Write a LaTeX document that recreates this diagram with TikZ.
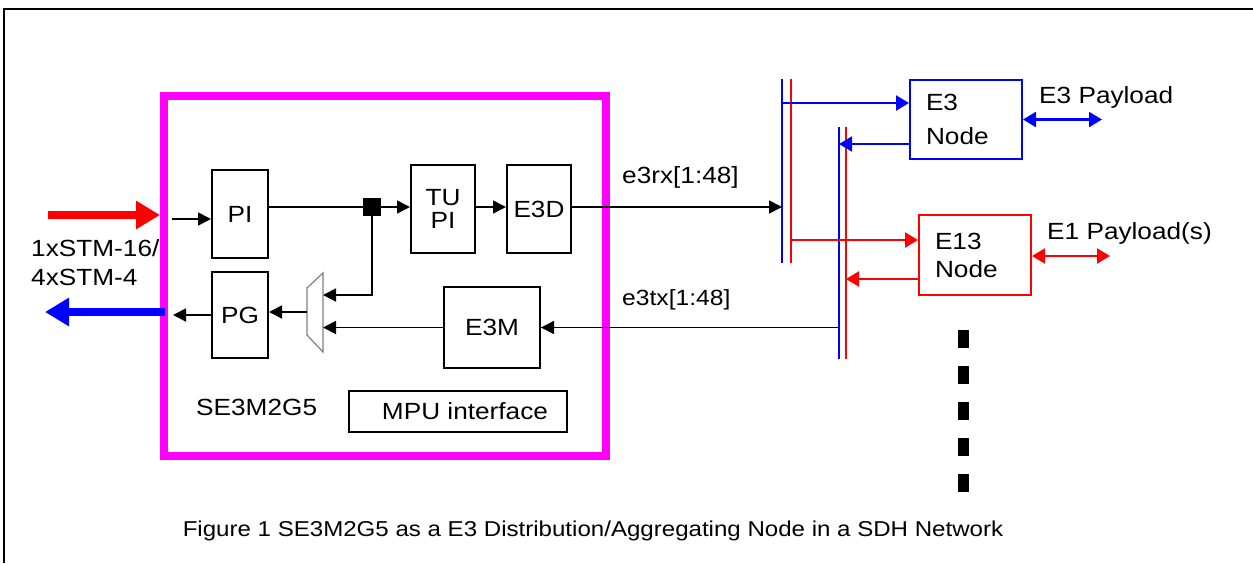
\documentclass[tikz,border=0pt]{standalone}
\usepackage{fontspec}
\setmainfont{Liberation Sans}[FakeStretch=1.12]
\usetikzlibrary{arrows.meta}
\definecolor{chipmag}{HTML}{FF00FF}

\begin{document}
\begin{tikzpicture}[x=1pt, y=-1pt,
  every node/.style={font=\fontsize{23.4}{29}\selectfont},
  box/.style={draw, line width=2pt, inner sep=0pt},
  link/.style={line width=1.8pt, -{Triangle[length=13pt,width=13pt]}},
  clink/.style={line width=2.2pt, -{Triangle[length=13pt,width=15pt]}},
  dlink/.style={line width=2.2pt, {Triangle[length=13pt,width=15pt]}-{Triangle[length=13pt,width=15pt]}},
  bus/.style={line width=2pt},
  lbl/.style={anchor=west, inner sep=0pt}]
\useasboundingbox (0,0) rectangle (1253,563);

% Page frame
\draw[line width=2pt] (4,563) -- (4,9) -- (1253,9);

% Chip outline and blocks
\node[draw=chipmag, line width=8pt, minimum width=442pt, minimum height=360pt] (chip) at (385,276) {};
\node[box, minimum width=56pt, minimum height=88pt] (pi) at (240,214) {PI};
\node[box, minimum width=56pt, minimum height=86pt] (pg) at (240,315) {PG};
\node[box, minimum width=64pt, minimum height=88pt, align=center, font=\fontsize{23.4}{23}\selectfont] (tupi) at (443,209) {TU\\PI};
\node[box, minimum width=64pt, minimum height=88pt] (e3d) at (539,209) {E3D};
\node[box, minimum width=96pt, minimum height=81pt] (e3m) at (492,327.5) {E3M};
\node[box, minimum width=218pt, minimum height=41pt] (mpu) at (458,411.5) {\hspace{14pt}MPU interface};
\node[lbl] (chipname) at (196,407) {SE3M2G5};
\node[fill, inner sep=0pt, minimum size=18pt] (jn) at (372,207) {};

% Mux
\draw[gray, line width=1.2pt] (307,288) -- (323,273) -- (323,352) -- (307,335) -- cycle;
\coordinate (mux1) at (323,295);
\coordinate (mux2) at (323,328);
\coordinate (muxo) at (307,312);

% Line side
\coordinate (stmin) at (48,215);
\coordinate (stmout) at (45,312);
\draw[red, line width=8pt, -{Triangle[length=24pt,width=27pt]}] (stmin) -- (stmin -| chip.west);
\draw[blue, line width=8pt, -{Triangle[length=24pt,width=27pt]}] ([xshift=5pt]stmout -| chip.west) -- (stmout);
\node[lbl, align=left] (stm) at (31,262.5) {1xSTM-16/\\4xSTM-4};

% Internal links
\draw[link] ([xshift=12pt]chip.west |- 0,219) -- ([yshift=-5pt]pi.west);
\draw[link] (pg.west) -- ([xshift=13pt]pg.west -| chip.west);
\draw[line width=1.8pt] (jn -| pi.east) -- (jn);
\draw[link] (jn) -- (jn -| tupi.west);
\draw[link] (tupi.east |- jn) -- (jn -| e3d.west);
\draw[link] (jn) |- (mux1);
\draw[link] (e3m.west) -- (e3m.west -| mux2);
\draw[link] (muxo) -- (muxo -| pg.east);

% Buses
\coordinate (b1top) at (782,79);  \coordinate (b1bot) at (782,263);
\coordinate (r1top) at (791,79);  \coordinate (r1bot) at (791,263);
\coordinate (b2top) at (839,127); \coordinate (b2bot) at (839,359);
\coordinate (r2top) at (846,127); \coordinate (r2bot) at (846,359);
\draw[bus, blue] (b1top) -- (b1bot);
\draw[bus, red] (r1top) -- (r1bot);
\draw[bus, blue] (b2top) -- (b2bot);
\draw[bus, red] (r2top) -- (r2bot);

\draw[link] (jn -| e3d.east) -- (jn -| b1top);
\draw[line width=1.8pt] (e3m.east -| b2top) -- (e3m.east);
\draw[link] (e3m.east -| b2top) -- (e3m.east);
\node[lbl] (rxlbl) at (622,177) {e3rx[1:48]};
\node[lbl, font=\fontsize{22}{26}\selectfont] (txlbl) at (622,300) {e3tx[1:48]};

% Tributary nodes
\node[box, draw=blue, minimum width=112pt, minimum height=79pt, text width=80pt, align=left, font=\fontsize{23.4}{34}\selectfont] (e3n) at (966,119.5) {E3\\Node};
\node[box, draw=red, minimum width=112pt, minimum height=80pt, text width=80pt, align=left, font=\fontsize{23.4}{28}\selectfont] (e13n) at (975,255) {E13\\Node};

\draw[clink, blue] ([yshift=16.5pt]e3n.west -| b1top) -- ([yshift=16.5pt]e3n.west);
\draw[clink, blue] ([yshift=-24.5pt]e3n.west) -- ([yshift=-24.5pt]e3n.west -| b2top);
\draw[clink, red] ([yshift=15pt]e13n.west -| r1top) -- ([yshift=15pt]e13n.west);
\draw[clink, red] ([yshift=-24pt]e13n.west) -- ([yshift=-24pt]e13n.west -| r2top);

\coordinate (e3pay) at (1102,119.5);
\coordinate (e1pay) at (1110,256);
\draw[dlink, blue] (e3n.east |- e3pay) -- (e3pay);
\draw[dlink, red] (e13n.east |- e1pay) -- (e1pay);
\node[lbl] (e3plbl) at (1039,97) {E3 Payload};
\node[lbl] (e1plbl) at (1047,233) {E1 Payload(s)};

% More nodes
\draw[line width=11pt, dash pattern=on 18pt off 18pt] (963,330) -- (963,493);

% Caption
\node[font=\fontsize{21.5}{26}\selectfont] (caption) at (593,531) {Figure 1 SE3M2G5 as a E3 Distribution/Aggregating Node in a SDH Network};
\end{tikzpicture}
\end{document}
